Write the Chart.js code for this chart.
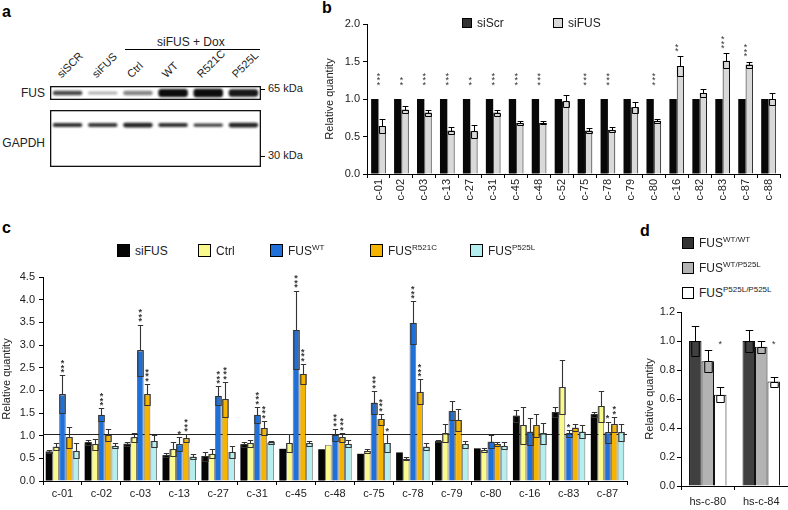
<!DOCTYPE html>
<html>
<head>
<meta charset="utf-8">
<title>FUS knockdown and rescue</title>
<script src="https://cdn.jsdelivr.net/npm/chart.js@4.4.1/dist/chart.umd.min.js"></script>
<style>
  html, body { margin: 0; padding: 0; background: #fff; }
  body { width: 788px; height: 510px; position: relative; overflow: hidden; font-family: "Liberation Sans", Arial, sans-serif; color: #222; }
  canvas { position: absolute; }
  .t { position: absolute; white-space: nowrap; line-height: 1; }
  .panel { font-weight: bold; font-size: 16px; color: #000; }
  .leg { position: absolute; display: flex; align-items: center; font-size: 12px; line-height: 12px; white-space: nowrap; }
  .leg i { display: inline-block; flex: none; box-sizing: border-box; border: 1px solid #000; margin-right: 5px; }
  .leg sup { font-size: 8px; line-height: 0; vertical-align: 5px; }
</style>
</head>
<body>
<div class="t panel" style="left:2px;top:4px">a</div>
<div class="t panel" style="left:322px;top:0px">b</div>
<div class="t panel" style="left:2px;top:220px">c</div>
<div class="t panel" style="left:640px;top:223px">d</div>

<div class="t" style="left:157px;top:36px;font-size:12px">siFUS + Dox</div>
<div style="position:absolute;left:125px;top:49px;width:135px;height:1px;background:#000"></div>
<div class="t" style="left:0;width:45px;text-align:right;top:87px;font-size:12px">FUS</div>
<div class="t" style="left:0;width:45px;text-align:right;top:137px;font-size:12px">GAPDH</div>
<canvas id="blotFus" width="211" height="14" style="left:50px;top:86px"></canvas>
<canvas id="blotGapdh" width="211" height="57" style="left:50px;top:110px"></canvas>
<div style="position:absolute;left:261px;top:89px;width:4px;height:1px;background:#000"></div>
<div class="t" style="left:268px;top:83px;font-size:11px">65 kDa</div>
<div style="position:absolute;left:261px;top:156px;width:4px;height:1px;background:#000"></div>
<div class="t" style="left:268px;top:150px;font-size:11px">30 kDa</div>

<canvas id="chartB" width="469" height="200" style="left:319px;top:14px"></canvas>
<canvas id="chartC" width="640" height="248" style="left:0;top:262px"></canvas>
<canvas id="chartD" width="148" height="210" style="left:640px;top:300px"></canvas>

<script>
// ---- panel a: western blot lanes
const lanes = ['siSCR', 'siFUS', 'Ctrl', 'WT', 'R521C', 'P525L'];
const fusIntensity = [0.75, 0.32, 0.5, 1, 1, 0.95];
const fusThickness = [0.33, 0.22, 0.33, 0.57, 0.62, 0.55];
const gapdhIntensity = [0.85, 0.82, 0.9, 0.85, 0.8, 0.9];
const gapdhThickness = [0.07, 0.07, 0.08, 0.07, 0.06, 0.08];

// ---- panel b
const bCategories = ['c-01', 'c-02', 'c-03', 'c-13', 'c-27', 'c-31', 'c-45', 'c-48', 'c-52', 'c-75', 'c-78', 'c-79', 'c-80', 'c-16', 'c-82', 'c-83', 'c-87', 'c-88'];
const bSiScr = [1, 1, 1, 1, 1, 1, 1, 1, 1, 1, 1, 1, 1, 1, 1, 1, 1, 1];
const bSiFUS = [0.64, 0.86, 0.82, 0.58, 0.57, 0.82, 0.68, 0.68, 0.97, 0.58, 0.59, 0.89, 0.71, 1.44, 1.08, 1.51, 1.46, 1.00];
const bSiFUSErr = [0.09, 0.05, 0.04, 0.04, 0.09, 0.04, 0.03, 0.02, 0.08, 0.03, 0.03, 0.07, 0.03, 0.13, 0.05, 0.10, 0.04, 0.08];
const bStars = ['***', '**', '***', '***', '**', '***', '***', '***', '', '***', '***', '', '***', '**', '', '***', '***', ''];

// ---- panel c
const cCategories = ['c-01', 'c-02', 'c-03', 'c-13', 'c-27', 'c-31', 'c-45', 'c-48', 'c-75', 'c-78', 'c-79', 'c-80', 'c-16', 'c-83', 'c-87'];
const cSiFUS =    [0.65, 0.85, 0.82, 0.57, 0.55, 0.81, 0.71, 0.70, 0.60, 0.63, 0.88, 0.72, 1.44, 1.52, 1.47];
const cSiFUSErr = [0.04, 0.05, 0.04, 0.05, 0.10, 0.05, 0, 0, 0, 0, 0.03, 0, 0.13, 0.11, 0.05];
const cCtrl =     [0.76, 0.81, 0.96, 0.70, 0.60, 0.83, 0.83, 0.80, 0.66, 0.49, 1.05, 0.68, 1.23, 2.07, 1.65];
const cCtrlErr =  [0.07, 0.12, 0.10, 0.15, 0.10, 0.07, 0.20, 0, 0.05, 0.03, 0.20, 0.04, 0.41, 0.60, 0.34];
const cWT =       [1.91, 1.46, 2.88, 0.81, 1.88, 1.46, 3.33, 1.02, 1.73, 3.49, 1.55, 0.87, 1.09, 1.05, 1.07];
const cWTErr =    [0.42, 0.14, 0.57, 0.15, 0.21, 0.17, 0.87, 0.13, 0.26, 0.47, 0.21, 0.14, 0.30, 0.07, 0.24];
const cR521C =    [0.96, 1.02, 1.91, 0.94, 1.80, 1.17, 2.36, 0.96, 1.36, 1.97, 1.35, 0.82, 1.23, 1.18, 1.25];
const cR521CErr = [0.24, 0.13, 0.23, 0.09, 0.39, 0.16, 0.22, 0.10, 0.12, 0.27, 0.24, 0.05, 0.25, 0.08, 0.17];
const cP525L =    [0.67, 0.78, 0.88, 0.54, 0.64, 0.85, 0.83, 0.82, 0.84, 0.76, 0.81, 0.78, 1.05, 1.09, 1.07];
const cP525LErr = [0.16, 0.06, 0.13, 0.06, 0.14, 0.04, 0.06, 0.08, 0.19, 0.08, 0.08, 0.08, 0.24, 0.15, 0.18];
const cStarsWT =    ['***', '***', '***', '*', '***', '***', '***', '***', '***', '***', '', '', '', '*', '*'];
const cStarsR521C = ['', '', '***', '***', '***', '***', '***', '***', '***', '***', '', '', '', '', '**'];
const cStarsP525L = ['', '', '', '', '', '', '', '', '*', '', '', '', '', '', ''];
const cRefLine = 1.03;

// ---- panel d
const dCategories = ['hs-c-80', 'hs-c-84'];
const dWTWT = [1.00, 1.00];
const dWTWTErr = [0.10, 0.075];
const dWTP525L = [0.86, 0.96];
const dWTP525LErr = [0.075, 0.04];
const dP525L = [0.63, 0.72];
const dP525LErr = [0.05, 0.035];
const dStars = ['*', '*'];

const cColors = ['#050505', '#fafa8c', '#1f70d8', '#f5b400', '#b4eeee'];
const cNames = ['siFUS', 'Ctrl', 'FUS<sup>WT</sup>', 'FUS<sup>R521C</sup>', 'FUS<sup>P525L</sup>'];
const dColors = ['#404040', '#b3b3b3', '#ffffff'];
const dNames = ['FUS<sup>WT/WT</sup>', 'FUS<sup>WT/P525L</sup>', 'FUS<sup>P525L/P525L</sup>'];

Chart.defaults.font.family = '"Liberation Sans", Arial, sans-serif';
Chart.defaults.font.size = 11;
Chart.defaults.color = '#222';
Chart.defaults.animation = false;
Chart.defaults.plugins.legend.display = false;
Chart.defaults.plugins.tooltip.enabled = false;

// error bars: whisker above the bar, box inside it
const errorBars = {
  id: 'errorBars',
  afterDatasetsDraw(chart, args, opts) {
    const { ctx } = chart;
    const y = chart.scales.y;
    ctx.save();
    ctx.strokeStyle = opts.color || '#000';
    ctx.lineWidth = opts.width || 1;
    chart.data.datasets.forEach((ds, di) => {
      if (!ds.errors) return;
      chart.getDatasetMeta(di).data.forEach((bar, i) => {
        const e = ds.errors[i];
        if (!e) return;
        const v = ds.data[i];
        const hi = Math.round(y.getPixelForValue(v + e)) + 0.5;
        const lo = Math.round(y.getPixelForValue(v - e)) + 0.5;
        const top = Math.round(bar.y) + 0.5;
        const half = bar.width * (opts.cap || 0.4);
        const x = Math.round(bar.x) + 0.5;
        ctx.beginPath();
        ctx.moveTo(x, top);
        ctx.lineTo(x, hi);
        ctx.moveTo(x - half, hi);
        ctx.lineTo(x + half, hi);
        ctx.rect(x - half, top, half * 2, lo - top);
        ctx.stroke();
      });
    });
    ctx.restore();
  }
};

// significance marks, stacked as a vertical column
const starMarks = {
  id: 'stars',
  afterDatasetsDraw(chart, args, opts) {
    const { ctx } = chart;
    const y = chart.scales.y;
    const size = opts.size || 9;
    const step = opts.step || 4;
    ctx.save();
    ctx.font = `${opts.bold ? 'bold ' : ''}${size}px "Liberation Sans", Arial, sans-serif`;
    ctx.fillStyle = opts.color || '#333';
    ctx.textAlign = 'center';
    ctx.textBaseline = 'alphabetic';
    chart.data.datasets.forEach((ds, di) => {
      if (!ds.stars) return;
      chart.getDatasetMeta(di).data.forEach((bar, i) => {
        const s = ds.stars[i];
        if (!s) return;
        let base = ds.data[i] + (ds.errors ? ds.errors[i] : 0);
        if (ds.starFloor) base = Math.max(base, ds.starFloor);
        const bottom = y.getPixelForValue(base) - (opts.gap || 3);
        const x = bar.x + (ds.starShift || 0) * bar.width;
        for (let k = 0; k < s.length; k++) {
          const cy = bottom - step / 2 - k * step;
          ctx.fillText('*', x, cy + size * 0.57);
        }
      });
    });
    ctx.restore();
  }
};

const refLine = {
  id: 'refLine',
  beforeDatasetsDraw(chart, args, opts) {
    if (opts.value == null) return;
    const { ctx, chartArea } = chart;
    const yy = Math.round(chart.scales.y.getPixelForValue(opts.value)) + 0.5;
    ctx.save();
    ctx.strokeStyle = '#222';
    ctx.lineWidth = 1;
    ctx.beginPath();
    ctx.moveTo(chartArea.left, yy);
    ctx.lineTo(chartArea.right, yy);
    ctx.stroke();
    ctx.restore();
  }
};

const blotLook = {
  id: 'blotLook',
  beforeDatasetsDraw(chart) {
    chart.ctx.save();
    chart.ctx.filter = 'blur(1.1px)';
  },
  afterDatasetsDraw(chart) {
    chart.ctx.restore();
  },
  afterDraw(chart) {
    const { ctx, chartArea: a } = chart;
    ctx.save();
    ctx.strokeStyle = '#111';
    ctx.lineWidth = 1.3;
    ctx.strokeRect(a.left + 0.65, a.top + 0.65, a.right - a.left - 1.3, a.bottom - a.top - 1.3);
    ctx.restore();
  }
};

function blot(id, intensity, thickness, centre) {
  new Chart(document.getElementById(id), {
    type: 'bar',
    data: {
      labels: lanes,
      datasets: [{
        data: intensity.map((_, i) => [centre - thickness[i], centre + thickness[i]]),
        backgroundColor: intensity.map(v => `rgba(12,12,12,${v})`),
        borderWidth: 0,
        borderSkipped: false,
        borderRadius: 3,
        categoryPercentage: 1,
        barPercentage: 0.84
      }]
    },
    options: {
      responsive: false,
      layout: { padding: 0 },
      scales: {
        x: { display: false },
        y: { display: false, min: -1, max: 1 }
      }
    },
    plugins: [blotLook]
  });
}

blot('blotFus', fusIntensity, fusThickness, 0);
blot('blotGapdh', gapdhIntensity, gapdhThickness, 0.47);

lanes.forEach((name, i) => {
  const d = document.createElement('div');
  d.className = 't';
  d.textContent = name;
  d.style.cssText = `left:${50 + (i + 0.5) * 35 - 5}px;top:69px;font-size:11px;transform-origin:0 100%;transform:rotate(-45deg)`;
  document.body.appendChild(d);
});

function legend(x, y, size, color, html) {
  const d = document.createElement('div');
  d.className = 'leg';
  d.style.left = x + 'px';
  d.style.top = y + 'px';
  d.innerHTML = `<i style="width:${size}px;height:${size}px;background:${color}"></i><span>${html}</span>`;
  document.body.appendChild(d);
}

legend(462, 17, 10, '#333', 'siScr');
legend(553, 17, 10, '#d9d9d9', 'siFUS');
[117, 198, 270, 370, 470].forEach((x, i) => legend(x, 244, 13, cColors[i], cNames[i]));
[237, 262, 287].forEach((y, i) => legend(682, y, 12, i === 0 ? '#333' : dColors[i], dNames[i]));

function yAxis(max, step, width, titlePad, tickPad) {
  return {
    min: 0,
    max,
    ticks: { stepSize: step, padding: tickPad, callback: v => v.toFixed(1) },
    grid: { drawOnChartArea: false, tickLength: 4, color: '#000' },
    border: { color: '#000' },
    title: { display: true, text: 'Relative quantity', padding: { top: titlePad, bottom: 0 } },
    afterFit: s => { s.width = width; }
  };
}

function xAxis(height, rotation, pad) {
  return {
    ticks: { autoSkip: false, minRotation: rotation, maxRotation: rotation, padding: pad },
    grid: { drawOnChartArea: false, tickLength: 4, color: '#000', offset: true },
    border: { color: '#000' },
    afterFit: s => { s.height = height; }
  };
}

// panel b
new Chart(document.getElementById('chartB'), {
  type: 'bar',
  data: {
    labels: bCategories,
    datasets: [
      { label: 'siScr', data: bSiScr, backgroundColor: '#080808', borderWidth: 0 },
      {
        label: 'siFUS', data: bSiFUS, errors: bSiFUSErr, stars: bStars, starShift: -0.5, starFloor: 1.12,
        backgroundColor: '#d9d9d9', borderColor: '#111', borderWidth: 1
      }
    ]
  },
  options: {
    responsive: false,
    layout: { padding: { top: 10, right: 8, left: 0, bottom: 0 } },
    datasets: { bar: { categoryPercentage: 0.64, barPercentage: 1 } },
    scales: { x: xAxis(40, 90, 1), y: yAxis(2, 0.5, 48, 4, 3) },
    plugins: {
      errorBars: { color: '#000', width: 1, cap: 0.4 },
      stars: { gap: 5, size: 9, step: 4.5, color: '#333' }
    }
  },
  plugins: [errorBars, starMarks]
});

// panel c
const cBorder = 'rgba(0,0,0,0.55)';
new Chart(document.getElementById('chartC'), {
  type: 'bar',
  data: {
    labels: cCategories,
    datasets: [
      { label: 'siFUS', data: cSiFUS, errors: cSiFUSErr, backgroundColor: cColors[0], borderWidth: 0 },
      { label: 'Ctrl', data: cCtrl, errors: cCtrlErr, backgroundColor: cColors[1], borderColor: cBorder, borderWidth: 1 },
      { label: 'FUS WT', data: cWT, errors: cWTErr, stars: cStarsWT, backgroundColor: cColors[2], borderColor: cBorder, borderWidth: 1 },
      { label: 'FUS R521C', data: cR521C, errors: cR521CErr, stars: cStarsR521C, backgroundColor: cColors[3], borderColor: cBorder, borderWidth: 1 },
      { label: 'FUS P525L', data: cP525L, errors: cP525LErr, stars: cStarsP525L, backgroundColor: cColors[4], borderColor: cBorder, borderWidth: 1 }
    ]
  },
  options: {
    responsive: false,
    layout: { padding: { top: 15, right: 13, left: 0, bottom: 0 } },
    datasets: { bar: { categoryPercentage: 0.86, barPercentage: 1 } },
    scales: { x: xAxis(29, 0, 2), y: yAxis(4.5, 0.5, 43, 0, 4) },
    plugins: {
      errorBars: { color: '#333', width: 1.1, cap: 0.4 },
      stars: { gap: 3, size: 9, step: 4.5, color: '#333', bold: true },
      refLine: { value: cRefLine }
    }
  },
  plugins: [refLine, errorBars, starMarks]
});

// panel d
new Chart(document.getElementById('chartD'), {
  type: 'bar',
  data: {
    labels: dCategories,
    datasets: [
      { label: 'WT/WT', data: dWTWT, errors: dWTWTErr, backgroundColor: dColors[0], borderColor: '#111', borderWidth: 1 },
      { label: 'WT/P525L', data: dWTP525L, errors: dWTP525LErr, backgroundColor: dColors[1], borderColor: '#111', borderWidth: 1 },
      { label: 'P525L/P525L', data: dP525L, errors: dP525LErr, stars: dStars, starFloor: 0.96, backgroundColor: dColors[2], borderColor: '#111', borderWidth: 1 }
    ]
  },
  options: {
    responsive: false,
    layout: { padding: { top: 12, right: 0, left: 0, bottom: 0 } },
    datasets: { bar: { categoryPercentage: 0.7, barPercentage: 1 } },
    scales: { x: xAxis(24, 0, 5), y: yAxis(1.2, 0.2, 41, 3, 2) },
    plugins: {
      errorBars: { color: '#000', width: 1, cap: 0.3 },
      stars: { gap: 3, size: 9, step: 4.5, color: '#333' }
    }
  },
  plugins: [errorBars, starMarks]
});
</script>
</body>
</html>
